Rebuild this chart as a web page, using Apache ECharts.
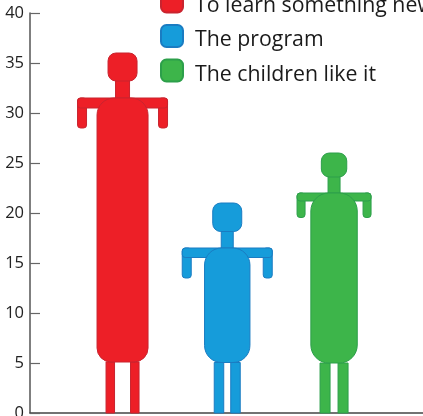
<!DOCTYPE html>
<html><head><meta charset="utf-8">
<style>html,body{margin:0;padding:0;background:#fff;overflow:hidden}#c{width:423px;height:416px}</style>
<script src="https://cdn.jsdelivr.net/npm/echarts@6/dist/echarts.min.js"></script>
</head><body><div id="c"></div>
<script>
const names = ['To learn something new', 'The program', 'The children like it'];
const positions = [1, 1.99, 3];
const heights = [36, 21, 26];
const headBottoms = [33.2, 18.15, 23.6];
const shoulders = [31.5, 16.5, 22];
const handBottoms = [28.5, 13.5, 19.55];
const hips = [5.1, 5.05, 5];
const yTicks = [0, 5, 10, 15, 20, 25, 30, 35, 40];
const fills = ['#ed1f27', '#169cda', '#3db54a'];
const strokes = ['#c9242f', '#1a7cc2', '#2c9f4a'];
// pixel proportions of each hand-drawn figure
const build = [
  {head: 14.5, neck: 7, arm: 45, armW: 9, barH: 10, body: 25.5, rTop: 17, rBot: 14, legIn: 8, legOut: 16.5},
  {head: 14.5, neck: 6, arm: 45, armW: 9, barH: 9.5, body: 22.7, rTop: 17, rBot: 17, legIn: 3.5, legOut: 13},
  {head: 12.7, neck: 6, arm: 37, armW: 8, barH: 8, body: 23.2, rTop: 18, rBot: 18, legIn: 4, legOut: 14}
];

function renderFigure(i) {
  return function (params, api) {
    const cx = api.coord([api.value(0), 0])[0];
    const y = v => api.coord([api.value(0), v])[1];
    const b = build[i];
    const top = y(api.value(1)), hb = y(api.value(2)), sh = y(api.value(3)), hand = y(api.value(4)), hip = y(api.value(5)), ground = y(0);
    const style = {fill: fills[i], stroke: strokes[i], lineWidth: 1};
    const rect = (x, yy, w, h, r) => ({type: 'rect', shape: {x, y: yy, width: w, height: h, r}, style});
    return {type: 'group', children: [
      rect(cx - b.legOut, hip, b.legOut - b.legIn, ground - hip, 0),
      rect(cx + b.legIn, hip, b.legOut - b.legIn, ground - hip, 0),
      rect(cx - b.arm, sh, b.armW, hand - sh, 3),
      rect(cx + b.arm - b.armW, sh, b.armW, hand - sh, 3),
      rect(cx - b.arm, sh, 2 * b.arm, b.barH, 3),
      rect(cx - b.neck, hb - 1, 2 * b.neck, sh - hb + 1, 0),
      rect(cx - b.head, top, 2 * b.head, hb - top, 8),
      rect(cx - b.body, sh, 2 * b.body, hip - sh, [b.rTop, b.rTop, b.rBot, b.rBot])
    ]};
  };
}

const chart = echarts.init(document.getElementById('c'), null, {renderer: 'canvas'});
chart.setOption({
  animation: false,
  backgroundColor: '#fff',
  textStyle: {fontFamily: '"Open Sans"'},
  grid: {left: 30, right: 0, top: 13, height: 400, outerBoundsMode: 'none'},
  legend: {
    orient: 'vertical', left: 155, top: -15.5, itemWidth: 22, itemHeight: 22, itemGap: 8,
    selectedMode: false, icon: 'roundRect',
    formatter: name => '{a|' + name + '}',
    textStyle: {
      padding: [0, 0, 0, 7],
      rich: {a: {fontFamily: '"Open Sans"', fontSize: 21.3, color: '#1a1a1a', padding: [8, 0, 0, 0]}}
    },
    data: names
  },
  xAxis: {
    type: 'value', min: 0.125, max: 3.841, show: true,
    axisLine: {show: true, lineStyle: {color: '#444', width: 1.5}},
    axisTick: {show: false}, axisLabel: {show: false}, splitLine: {show: false}
  },
  yAxis: {
    type: 'value', min: yTicks[0], max: yTicks[yTicks.length - 1], interval: 5,
    axisLine: {show: true, lineStyle: {color: '#555', width: 1.5}},
    axisTick: {show: true, inside: true, length: 10, lineStyle: {color: '#666', width: 1.2}},
    axisLabel: {fontFamily: '"Open Sans"', fontSize: 16.5, color: '#222', margin: 6},
    splitLine: {show: false}
  },
  series: names.map((name, i) => ({
    type: 'custom', name,
    clip: false,
    itemStyle: {color: fills[i], borderColor: strokes[i], borderWidth: 1},
    renderItem: renderFigure(i),
    encode: {x: 0, y: 1},
    data: [[positions[i], heights[i], headBottoms[i], shoulders[i], handBottoms[i], hips[i]]]
  }))
});
</script></body></html>
